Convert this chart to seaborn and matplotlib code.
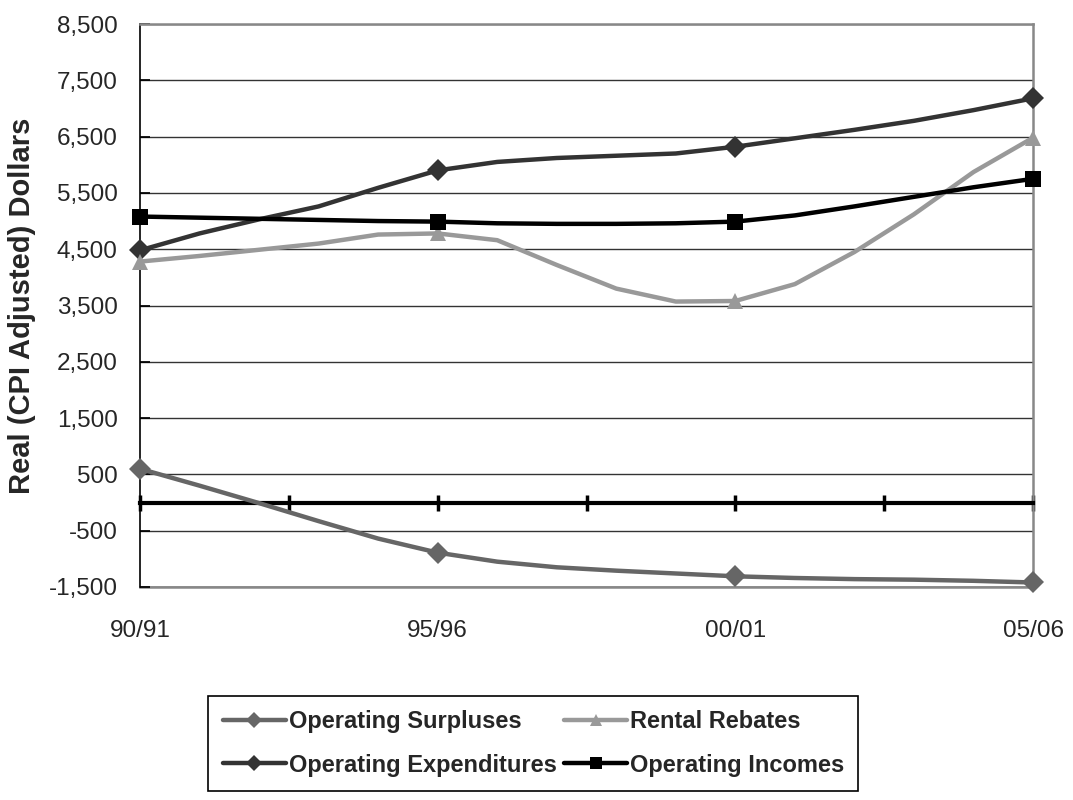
import numpy as np
import pandas as pd
import matplotlib
matplotlib.use("Agg")
import matplotlib.pyplot as plt
import seaborn as sns
from matplotlib.ticker import FuncFormatter

# ---- data ----
years = list(range(16))  # 90/91 .. 05/06
xtick_pos = [0, 5, 10, 15]
xtick_labels = ["90/91", "95/96", "00/01", "05/06"]
surpluses = [600, 300, -10, -330, -640, -890, -1050, -1150, -1210, -1260,
             -1310, -1340, -1360, -1370, -1390, -1420]
rebates = [4280, 4380, 4490, 4600, 4760, 4780, 4660, 4220, 3800, 3570,
           3580, 3880, 4450, 5120, 5870, 6480]
expenditures = [4480, 4780, 5030, 5260, 5590, 5900, 6050, 6120, 6160, 6200,
                6320, 6470, 6620, 6780, 6970, 7180]
incomes = [5080, 5060, 5040, 5020, 5000, 4990, 4960, 4950, 4950, 4960,
           4990, 5100, 5260, 5430, 5600, 5750]
yticks = list(range(-1500, 8501, 1000))

series = [
    ("Operating Surpluses", surpluses, "#666666", "D", 11),
    ("Operating Expenditures", expenditures, "#333333", "D", 11),
    ("Rental Rebates", rebates, "#999999", "^", 12),
    ("Operating Incomes", incomes, "#000000", "s", 11),
]

sns.set_theme(style="white")
plt.rcParams["font.family"] = ["Liberation Sans", "DejaVu Sans"]

fig = plt.figure(figsize=(10.73, 8.0), dpi=100)
ax = fig.add_axes([140 / 1073, 1 - 587 / 800, (1033 - 140) / 1073, (587 - 24) / 800])

for name, vals, col, mk, ms in series:
    df = pd.DataFrame({"x": years, "y": vals})
    sns.lineplot(data=df, x="x", y="y", ax=ax, color=col, lw=3.2, marker=mk,
                 markersize=ms, markeredgewidth=0, markevery=5, label=name,
                 clip_on=False, zorder=5)

ax.set_xlim(0, 15)
ax.set_ylim(-1500, 8500)
ax.set_yticks(yticks)
ax.yaxis.set_major_formatter(FuncFormatter(lambda v, p: f"{int(v):,}"))
ax.grid(axis="y", color="#333333", lw=1)
ax.grid(axis="x", visible=False)
ax.set_xlabel("")
ax.set_ylabel("Real (CPI Adjusted) Dollars", fontsize=21, fontweight="bold",
              labelpad=9)

# zero axis line with tick marks
ax.spines["bottom"].set_position(("data", 0))
ax.spines["bottom"].set_color("black")
ax.spines["bottom"].set_linewidth(3)
ax.spines["bottom"].set_zorder(4)
ax.set_xticks(np.arange(0, 15.1, 2.5))
ax.tick_params(axis="x", which="both", direction="inout", length=11, width=2.5,
               color="black", labelbottom=False, bottom=True)
ax.spines["left"].set_color("black")
ax.spines["left"].set_linewidth(1.2)
for s in ["top", "right"]:
    ax.spines[s].set_color("#888888")
    ax.spines[s].set_linewidth(1.8)
ax.tick_params(axis="y", direction="in", length=7, color="black", labelsize=17.5,
               pad=16, left=True)

sec = ax.secondary_xaxis("bottom")
sec.set_xticks(xtick_pos, xtick_labels)
sec.tick_params(length=0, labelsize=17.5, pad=24)
sec.spines["bottom"].set_color("#888888")
sec.spines["bottom"].set_linewidth(1.8)

handles, labels = ax.get_legend_handles_labels()
leg = ax.legend(handles, labels, ncol=2, loc="center",
                bbox_to_anchor=(0.497, 0.0706), bbox_transform=fig.transFigure,
                frameon=True, fancybox=False, edgecolor="black", framealpha=1,
                prop={"size": 17, "weight": "bold"}, handlelength=2.7,
                handletextpad=0.1, columnspacing=0.3, labelspacing=0.85,
                borderpad=0.6, markerscale=0.75)
leg.get_frame().set_linewidth(1.2)

fig.savefig("out.png", dpi=100)
